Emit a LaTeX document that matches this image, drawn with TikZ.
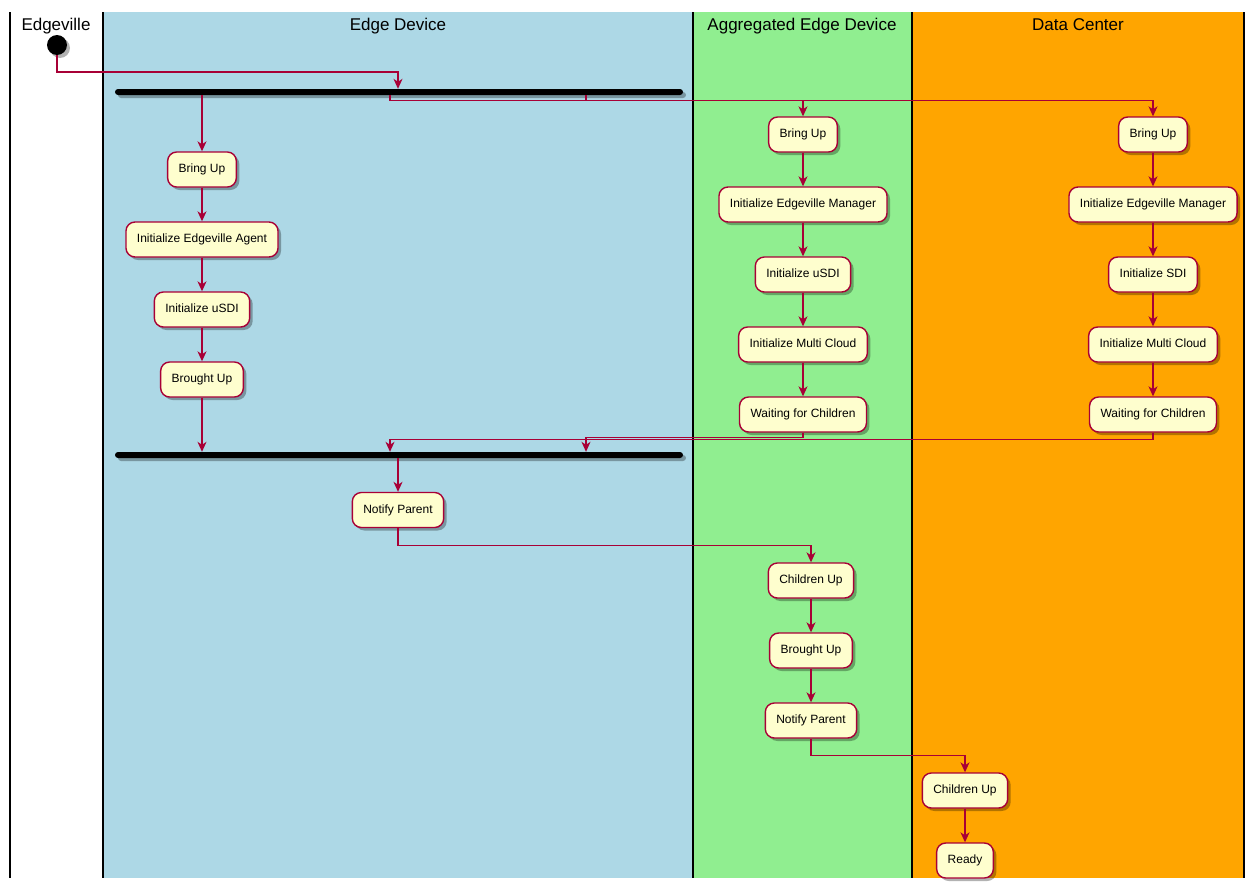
\documentclass[tikz,border=0pt]{standalone}
\usepackage{fontspec}
\setmainfont{Liberation Sans}
\usetikzlibrary{arrows.meta,shadows}
\definecolor{plred}{HTML}{A80036}
\definecolor{plbox}{HTML}{FEFECE}
\definecolor{laneblue}{HTML}{ADD8E6}
\definecolor{lanegreen}{HTML}{90EE90}
\definecolor{laneorange}{HTML}{FFA500}
\tikzset{
  shad/.style={drop shadow={shadow xshift=3pt,shadow yshift=-3pt,fill=black,opacity=0.3}},
  act/.style={draw=plred,fill=plbox,line width=1.4pt,rounded corners=9pt,
    minimum height=35pt,inner xsep=11pt,inner ysep=0pt,
    text height=9pt,text depth=2.5pt,
    font=\fontsize{12}{14}\selectfont,shad},
  syncbar/.style={fill=black,draw=none,rounded corners=3pt,minimum height=6pt,
    inner sep=0pt,minimum width=568pt,shad},
  conn/.style={draw=plred,line width=1.2pt,-{Stealth[length=10pt,width=9pt,inset=3pt]}},
  lanetitle/.style={font=\fontsize{17}{20}\selectfont,anchor=base},
  laneline/.style={draw=black,line width=1.6pt}
}
\begin{document}
\begin{tikzpicture}[x=1pt,y=-1pt]
\useasboundingbox (0,0) rectangle (1256,889);
% lanes
\fill[laneblue] (103,12) rectangle (693,878);
\fill[lanegreen] (693,12) rectangle (912,878);
\fill[laneorange] (912,12) rectangle (1244,878);
\foreach \x in {10,103,693,912,1244}{\draw[laneline] (\x,12) -- (\x,878);}
\node[lanetitle] (t0) at (56,30) {Edgeville};
\node[lanetitle] (t1) at (398,30) {Edge Device};
\node[lanetitle] (t2) at (802,30) {Aggregated Edge Device};
\node[lanetitle] (t3) at (1078,30) {Data Center};
% start
\node[circle,fill=black,minimum size=20pt,inner sep=0pt,shad] (start) at (57,45) {};
% bars
\node[syncbar] (fork) at (399,92) {};
\node[syncbar] (join) at (399,455) {};
% edge device
\node[act] (e1) at (202,169.5) {Bring Up};
\node[act] (e2) at (202,239.5) {Initialize Edgeville Agent};
\node[act] (e3) at (202,309.5) {Initialize uSDI};
\node[act] (e4) at (202,379.5) {Brought Up};
\node[act] (n1) at (398,510) {Notify Parent};
% aggregated
\node[act] (a1) at (803,134.5) {Bring Up};
\node[act] (a2) at (803,204.5) {Initialize Edgeville Manager};
\node[act] (a3) at (803,274.5) {Initialize uSDI};
\node[act] (a4) at (803,344.5) {Initialize Multi Cloud};
\node[act] (a5) at (803,414.5) {Waiting for Children};
\node[act] (a6) at (811,580.5) {Children Up};
\node[act] (a7) at (811,650.5) {Brought Up};
\node[act] (a8) at (811,720.5) {Notify Parent};
% data center
\node[act] (d1) at (1153,134.5) {Bring Up};
\node[act] (d2) at (1153,204.5) {Initialize Edgeville Manager};
\node[act] (d3) at (1153,274.5) {Initialize SDI};
\node[act] (d4) at (1153,344.5) {Initialize Multi Cloud};
\node[act] (d5) at (1153,414.5) {Waiting for Children};
\node[act] (d6) at (965,790.5) {Children Up};
\node[act] (d7) at (965,860.5) {Ready};
% helper coordinates
\coordinate (s1) at (398,72);
\coordinate (fa) at (390,0);
\coordinate (fb) at (586,0);
% connectors
\draw[conn] (start.south) |- (s1) -- (s1 |- fork.north);
\draw[conn] (e1 |- fork.south) -- (e1.north);
\draw[conn] (fa |- fork.south) -- ++(0,5) -| (a1.north);
\draw[conn] (fb |- fork.south) -- ++(0,5) -| (d1.north);
\draw[conn] (e1) -- (e2);
\draw[conn] (e2) -- (e3);
\draw[conn] (e3) -- (e4);
\draw[conn] (a1) -- (a2);
\draw[conn] (a2) -- (a3);
\draw[conn] (a3) -- (a4);
\draw[conn] (a4) -- (a5);
\draw[conn] (d1) -- (d2);
\draw[conn] (d2) -- (d3);
\draw[conn] (d3) -- (d4);
\draw[conn] (d4) -- (d5);
\draw[conn] (e4.south) -- (e4 |- join.north);
\draw[conn] (a5.south) -- ++(0,4.5) -| (fb |- join.north);
\draw[conn] (d5.south) -- ++(0,6.5) -| (fa |- join.north);
\draw[conn] (n1 |- join.south) -- (n1.north);
\draw[conn] (n1.south) -- ++(0,17) -| (a6.north);
\draw[conn] (a6) -- (a7);
\draw[conn] (a7) -- (a8);
\draw[conn] (a8.south) -- ++(0,17) -| (d6.north);
\draw[conn] (d6) -- (d7);
\end{tikzpicture}
\end{document}
